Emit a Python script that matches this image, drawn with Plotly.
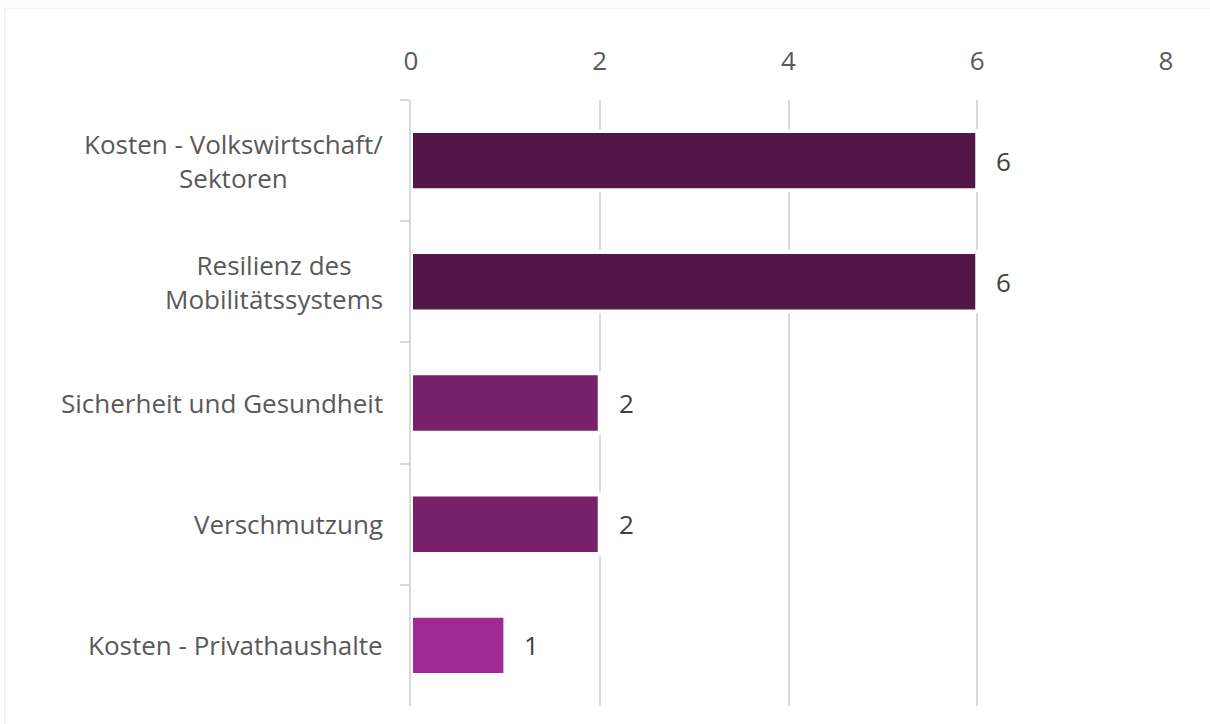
import plotly.graph_objects as go

categories = [
    "Kosten - Volkswirtschaft/<br>Sektoren",
    "Resilienz des<br>Mobilitätssystems",
    "Sicherheit und Gesundheit",
    "Verschmutzung",
    "Kosten - Privathaushalte",
]
values = [6, 6, 2, 2, 1]
bar_colors = ["#521747", "#521747", "#78206A", "#78206A", "#A02A92"]
x_ticks = [0, 2, 4, 6, 8]

FONT = "Open Sans"
FONT_SIZE = 26
LABEL_COLOR = "#595959"
VALUE_COLOR = "#404040"
GRID_COLOR = "#D9D9D9"

fig = go.Figure(
    go.Bar(
        x=values,
        y=categories,
        orientation="h",
        marker=dict(color=bar_colors, line=dict(color="white", width=4)),
        width=0.49,
        hoverinfo="x+y",
    )
)

annotations = []
# value labels just right of each bar end
for cat, v in zip(categories, values):
    annotations.append(
        dict(
            x=v, y=cat, xref="x", yref="y",
            text=str(v), showarrow=False,
            xanchor="left", xshift=17,
            font=dict(family=FONT, size=FONT_SIZE, color=VALUE_COLOR),
        )
    )

# category labels: right-aligned blocks with centred lines
for cat in categories:
    annotations.append(
        dict(
            x=0, y=cat, xref="paper", yref="y",
            text=cat, showarrow=False,
            xanchor="right", align="center", xshift=-26,
            font=dict(family=FONT, size=FONT_SIZE, color=LABEL_COLOR),
        )
    )

fig.update_layout(
    width=1210,
    height=724,
    margin=dict(l=411, r=44, t=100, b=18),
    paper_bgcolor="white",
    plot_bgcolor="white",
    showlegend=False,
    annotations=annotations,
    shapes=[
        dict(
            type="rect", xref="paper", yref="paper",
            x0=-0.538, x1=1.08, y0=-0.1, y1=1.151,
            line=dict(color="#F2F2F2", width=1.5),
            fillcolor="rgba(0,0,0,0)", layer="below",
        )
    ],
    xaxis=dict(
        side="top",
        range=[0, 8],
        tickvals=x_ticks,
        ticktext=[str(t) for t in x_ticks],
        showgrid=True,
        gridcolor=GRID_COLOR,
        gridwidth=2,
        zeroline=False,
        showline=False,
        ticks="",
        ticklabelstandoff=24,
        tickfont=dict(family=FONT, size=FONT_SIZE, color=LABEL_COLOR),
        fixedrange=True,
    ),
    yaxis=dict(
        categoryorder="array",
        categoryarray=categories,
        autorange="reversed",
        showticklabels=False,
        showline=True,
        linecolor=GRID_COLOR,
        linewidth=2,
        ticks="outside",
        tickson="boundaries",
        ticklen=9,
        tickwidth=2,
        tickcolor=GRID_COLOR,
        showgrid=False,
        zeroline=False,
        fixedrange=True,
    ),
)

fig.write_html("out.html")
